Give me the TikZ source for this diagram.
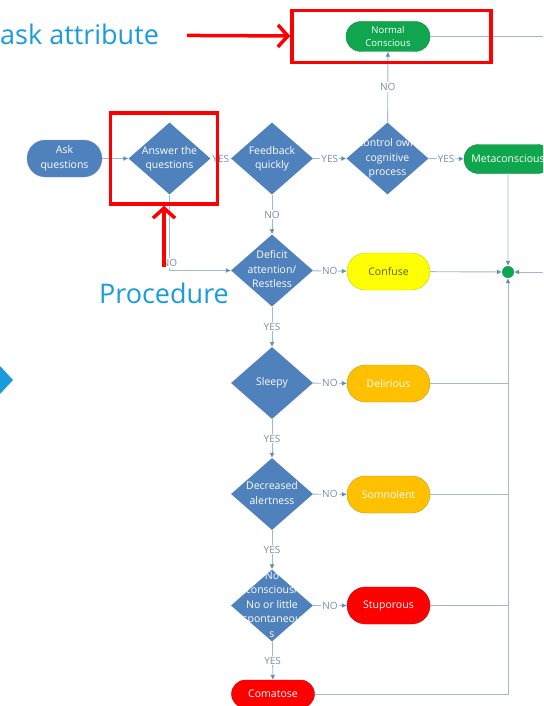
\documentclass[tikz,border=0pt]{standalone}
\usepackage{fontspec}
\setmainfont{Open Sans}
\usetikzlibrary{shapes.geometric,shapes.misc,arrows.meta}
\definecolor{dblue}{HTML}{4F81BD}
\definecolor{lnc}{HTML}{A2B7D1}
\definecolor{tipc}{HTML}{5F8BC4}
\definecolor{labc}{HTML}{7B8DA4}
\definecolor{ngreen}{HTML}{10A64E}
\definecolor{nyellow}{HTML}{FFFF00}
\definecolor{norange}{HTML}{FFC000}
\definecolor{nred}{HTML}{FF0000}
\definecolor{olivetext}{HTML}{5A5A3A}
\definecolor{callblue}{HTML}{1A9BDB}
\newcommand{\dtext}[1]{\makebox[0pt]{\raisebox{-0.25em}[0pt][0pt]{\begin{tabular}{@{}c@{}}#1\end{tabular}}}}

\begin{document}
\begin{tikzpicture}[x=1pt,y=-1pt,
  term/.style={rounded rectangle,draw=#1!80!black,fill=#1,text=white,minimum width=83pt,minimum height=37pt,inner sep=0pt,align=center},
  test/.style={diamond,fill=dblue,text=white,minimum width=82pt,minimum height=72pt,inner sep=0pt},
  flow/.style={draw=lnc,line width=0.9pt,-{Latex[length=5pt,width=5pt,color=tipc]}},
  plain/.style={draw=lnc,line width=0.9pt},
  lab/.style={fill=white,text=labc,inner sep=1pt,font=\fontsize{10}{11}\selectfont},
  redbox/.style={draw=nred,line width=3.5pt,inner sep=0pt},
  redarrow/.style={draw=nred,line width=3.5pt,-{Straight Barb[length=10pt,width=22pt]}},
  callout/.style={text=callblue,inner sep=0pt,font=\fontsize{27}{30}\selectfont},
  font=\fontsize{10.5}{14.5}\selectfont]
\path [use as bounding box,clip] (0,0) rectangle (543,706);

\node (ask) [term=dblue,draw=dblue!85,minimum width=75pt] at (64.5,158.5) {Ask\\questions};
\node (ans) [test] at (169.5,158.5) {\dtext{Answer the\\questions}};
\node (fb) [test] at (272,158.5) {\dtext{Feedback\\quickly}};
\node (ctrl) [test] at (387.5,158.5) {\dtext{control own\\cognitive\\process}};
\node (normal) [term=ngreen,minimum width=84pt,minimum height=30pt,font=\fontsize{9.5}{13.5}\selectfont] at (388,36.5) {Normal\\Conscious};
\node (meta) [term=ngreen,minimum width=88pt,minimum height=29pt] at (508,159) {Metaconscious};
\node (def) [test] at (272,270.5) {\dtext{Deficit\\attention/\\Restless}};
\node (conf) [term=nyellow,text=olivetext] at (388.5,271.5) {Confuse};
\node (dot) [circle,fill=ngreen,minimum size=12pt,inner sep=0pt] at (508,272) {};
\node (sleepy) [test] at (272,383) {\dtext{Sleepy}};
\node (del) [term=norange] at (388.5,383.5) {Delirious};
\node (decr) [test] at (272,494) {\dtext{Decreased\\alertness}};
\node (somn) [term=norange] at (388.5,494.5) {Somnolent};
\node (nocon) [test] at (272,605.5) {\dtext{No\\conscious/\\No or little\\spontaneou\\s}};
\node (stup) [term=nred] at (388.5,605.5) {Stuporous};
\node (coma) [term=nred,minimum height=28pt] at (273,694) {Comatose};
\coordinate (nr) at (543,36.5);
\coordinate (dr) at (543,272);

\draw [flow] (ask) -- (ans);
\draw [flow] (ans) -- node[lab]{YES} (fb);
\draw [flow] (fb) -- node[lab]{YES} (ctrl);
\draw [flow] (ctrl) -- node[lab]{YES} (meta);
\draw [flow] (ctrl) -- node[lab]{NO} (normal);
\draw [flow] (fb) -- node[lab]{NO} (def);
\draw [flow] (ans) |- node[lab,pos=0.45]{NO} (def);
\draw [flow] (def) -- node[lab]{NO} (conf);
\draw [flow] (def) -- node[lab]{YES} (sleepy);
\draw [flow] (sleepy) -- node[lab]{NO} (del);
\draw [flow] (sleepy) -- node[lab]{YES} (decr);
\draw [flow] (decr) -- node[lab]{NO} (somn);
\draw [flow] (decr) -- node[lab]{YES} (nocon);
\draw [flow] (nocon) -- node[lab]{NO} (stup);
\draw [flow] (nocon) -- node[lab]{YES} (coma);

\draw [plain] (normal) -- (nr);
\draw [flow] (meta) -- (dot);
\draw [flow] (conf) -- (dot);
\draw [flow] (dr) -- (dot);
\draw [flow] (coma) -| (dot);
\draw [plain] (del) -- (del -| dot);
\draw [plain] (somn) -- (somn -| dot);
\draw [plain] (stup) -- (stup -| dot);

\fill [callblue] (0,366) -- (13,380) -- (0,394) -- cycle;
\node (attr) [callout,anchor=base west] at (0,45) {ask attribute};
\node (proc) [callout,anchor=base] at (164,303) {Procedure};
\node (tboxa) [redbox,minimum width=199pt,minimum height=52pt] at (391.5,36.5) {};
\node (tboxb) [redbox,minimum width=107pt,minimum height=91pt] at (164,158.5) {};
\draw [redarrow,shorten <=28pt] (attr) -- (tboxa);
\draw [redarrow,shorten <=15pt] (proc) -- (tboxb);
\end{tikzpicture}
\end{document}
